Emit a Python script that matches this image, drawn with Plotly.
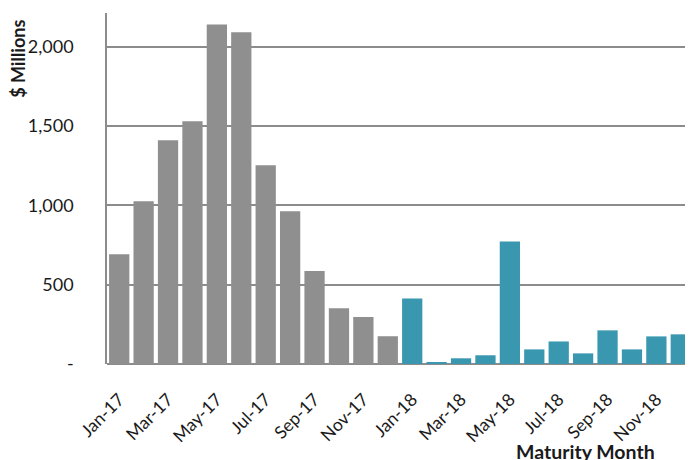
import plotly.graph_objects as go

months = ["Jan-17","Feb-17","Mar-17","Apr-17","May-17","Jun-17","Jul-17","Aug-17","Sep-17","Oct-17","Nov-17","Dec-17",
          "Jan-18","Feb-18","Mar-18","Apr-18","May-18","Jun-18","Jul-18","Aug-18","Sep-18","Oct-18","Nov-18","Dec-18"]
values_2017 = [692, 1026, 1410, 1530, 2140, 2090, 1252, 963, 586, 352, 296, 175]
values_2018 = [413, 10, 36, 55, 772, 92, 142, 67, 212, 92, 174, 187]
y_tickvals = [0, 500, 1000, 1500, 2000]
y_ticktext = ["-", "500", "1,000", "1,500", "2,000"]
x_tickvals = months[::2]

FONT = "Lato, 'Open Sans', sans-serif"

fig = go.Figure()
fig.add_trace(go.Bar(x=months[:12], y=values_2017, marker=dict(color="#8f8f8f", line=dict(width=0))))
fig.add_trace(go.Bar(x=months[12:], y=values_2018, marker=dict(color="#3a97b0", line=dict(width=0))))

fig.update_layout(
    width=685, height=452,
    margin=dict(l=99, r=0, t=5, b=96, autoexpand=False),
    paper_bgcolor="white", plot_bgcolor="white",
    showlegend=False, bargap=0.17, barmode="group",
    font=dict(family=FONT, size=17, color="#1a1a1a"),
)
fig.update_xaxes(
    type="category", categoryorder="array", categoryarray=months,
    range=[-0.5, 23.5],
    tickmode="array", tickvals=x_tickvals, ticktext=x_tickvals,
    tickangle=-45, showgrid=False, showline=False, ticks="",
    ticklabelstandoff=21, tickfont=dict(size=17.5),
)
fig.update_yaxes(
    range=[0, 2212], tickmode="array", tickvals=y_tickvals, ticktext=y_ticktext,
    showgrid=True, gridcolor="#8c8c8c", gridwidth=1.5,
    showline=True, linecolor="#8c8c8c", linewidth=1.5,
    zeroline=True, zerolinecolor="#8c8c8c", zerolinewidth=2,
    ticks="", ticklabelstandoff=28, tickfont=dict(size=18),
)
fig.add_annotation(text="<b>$ Millions</b>", xref="paper", yref="paper",
                   x=-0.152, y=0.986, xanchor="center", yanchor="top",
                   showarrow=False, textangle=-90, font=dict(size=18))
fig.add_annotation(text="<b>Maturity Month</b>", xref="paper", yref="paper",
                   x=0.816, y=-0.212, xanchor="center", yanchor="top",
                   showarrow=False, font=dict(size=19.5))

fig.write_html("out.html")
